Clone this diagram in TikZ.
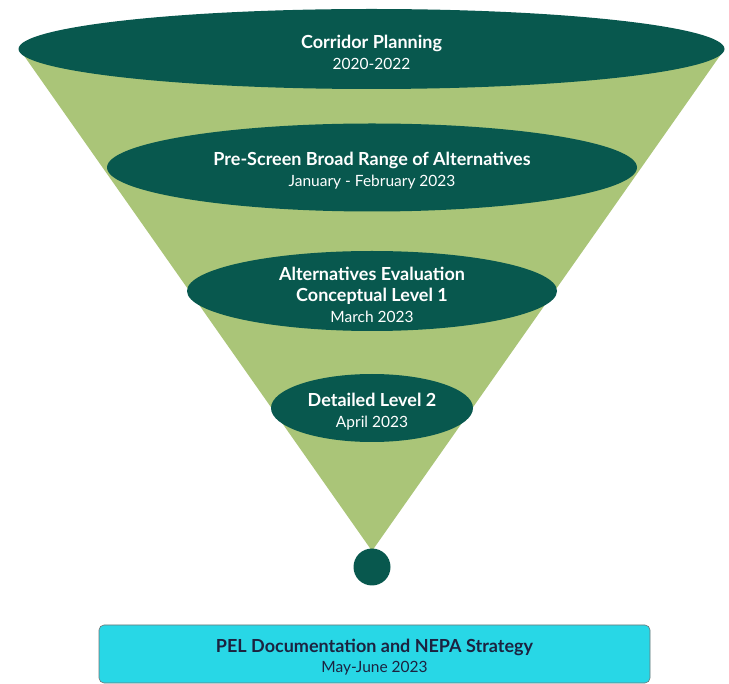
\documentclass[tikz,border=0pt]{standalone}
\usepackage{fontspec}
\setmainfont{Lato}
\usetikzlibrary{shapes.geometric}
\definecolor{darkgreen}{RGB}{8,88,78}
\definecolor{lightgreen}{RGB}{170,197,120}
\definecolor{boxcyan}{RGB}{40,215,230}
\definecolor{navytext}{RGB}{28,35,64}
\tikzset{
  stage/.style={ellipse, fill=darkgreen, inner sep=0pt},
  stagetext/.style={text=white, align=center, inner sep=0pt, yshift=-3.5pt, font=\fontsize{15.5}{21}\selectfont},
  boxtext/.style={text=navytext, align=center, inner sep=0pt, yshift=-3.5pt, font=\fontsize{15.5}{20}\selectfont},
}
\newcommand{\ttlline}[1]{{\fontsize{18}{21}\selectfont\bfseries #1}}
\begin{document}
\begin{tikzpicture}[x=1pt,y=-1pt]
\useasboundingbox (0,0) rectangle (729,684);
% funnel
\coordinate (fl) at (20,50);
\coordinate (fr) at (724,50);
\coordinate (apex) at (372,551);
\fill[lightgreen] (fl) -- (fr) -- (apex) -- cycle;
% stages
\node[stage, minimum width=706pt, minimum height=80pt] (e1) at (371.5,49) {};
\node[stagetext] (t1) at (e1.center) {\ttlline{Corridor Planning}\\2020-2022};
\node[stage, minimum width=530pt, minimum height=88pt] (e2) at (372,167.5) {};
\node[stagetext] (t2) at (e2.center) {\ttlline{Pre-Screen Broad Range of Alternatives}\\January - February 2023};
\node[stage, minimum width=370pt, minimum height=80pt] (e3) at (372,291) {};
\node[stagetext] (t3) at (e3.center) {\ttlline{Alternatives Evaluation}\\\ttlline{Conceptual Level 1}\\March 2023};
\node[stage, minimum width=202pt, minimum height=68pt] (e4) at (372,408) {};
\node[stagetext] (t4) at (e4.center) {\ttlline{Detailed Level 2}\\April 2023};
\node[circle, fill=darkgreen, minimum size=37pt, inner sep=0pt] (dot) at (372,567) {};
% bottom box
\node[draw=black!55, line width=0.6pt, fill=boxcyan, rounded corners=5pt, minimum width=551pt, minimum height=58pt] (pel) at (374.5,654) {};
\node[boxtext] (pelt) at (pel.center) {\ttlline{PEL Documentation and NEPA Strategy}\\May-June 2023};
\end{tikzpicture}
\end{document}
